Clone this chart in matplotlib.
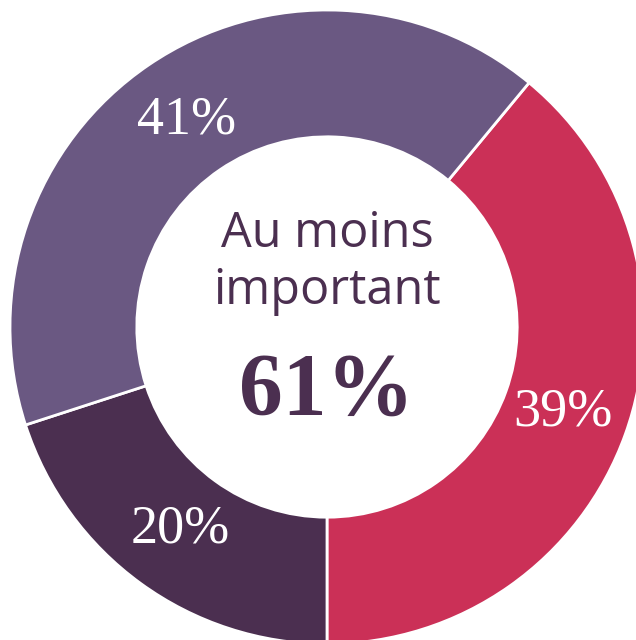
import numpy as np
import matplotlib.pyplot as plt

## data
labels = ['Rouge', 'Violet fonce', 'Violet clair']
values = [39, 20, 41]
colors = ['#CB3057', '#4B2F50', '#6A5882']
center_title = 'Au moins\nimportant'
center_value = '61%'

text_color = '#4B2F50'

fig = plt.figure(figsize=(6.36, 6.4), dpi=100)
ax = fig.add_axes([0, 0, 1, 1])

# red slice starts at top-right and runs clockwise to the bottom
start = 90 - (180 - values[0] / 100 * 360)

wedges, texts, autotexts = ax.pie(
    values,
    colors=colors,
    startangle=start,
    counterclock=False,
    center=(327, 313),
    radius=317,
    autopct='%d%%',
    pctdistance=0.79,
    wedgeprops=dict(width=317 * 0.4, edgecolor='white', linewidth=2),
    textprops=dict(color='white', fontsize=39, family='Liberation Serif'),
)

ax.text(327, 640 - 263, center_title, ha='center', va='center',
        fontsize=35, color=text_color, family='Open Sans', linespacing=1.2)
ax.text(327, 640 - 392, center_value, ha='center', va='center',
        fontsize=63, color=text_color, family='Liberation Serif', fontweight='bold')

ax.set_xlim(0, 636)
ax.set_ylim(0, 640)
ax.set_aspect('equal')
ax.axis('off')

plt.savefig('out.png', dpi=100)
